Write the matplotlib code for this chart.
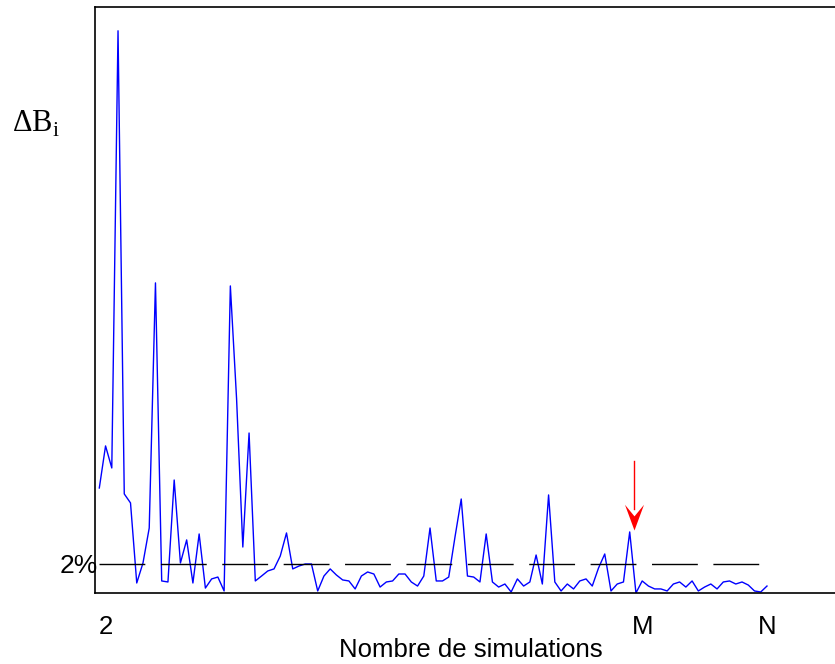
import numpy as np
import matplotlib.pyplot as plt
from matplotlib.path import Path

plt.rcParams['font.family'] = ['Liberation Sans', 'DejaVu Sans']
plt.rcParams['mathtext.fontset'] = 'custom'
plt.rcParams['mathtext.rm'] = 'Liberation Serif'

# relative change of B (in %) for each simulation
delta_b = [7.24, 10.14, 8.62, 38.76, 6.83, 6.21, 0.69, 2.07, 4.48, 21.38,
           0.83, 0.76, 7.79, 2.07, 3.66, 0.69, 4.07, 0.34, 0.97, 1.10,
           0.14, 21.17, 13.38, 3.17, 11.03, 0.83, 1.17, 1.52, 1.66, 2.55,
           4.14, 1.66, 1.86, 2.00, 2.00, 0.14, 1.17, 1.66, 1.24, 0.90,
           0.83, 0.28, 1.17, 1.45, 1.31, 0.41, 0.76, 0.83, 1.31, 1.31,
           0.76, 0.48, 1.17, 4.48, 0.83, 0.83, 1.10, 3.86, 6.48, 1.17,
           1.10, 0.76, 4.07, 0.76, 0.41, 0.62, 0.07, 0.97, 0.48, 0.76,
           2.62, 0.62, 6.76, 0.76, 0.14, 0.62, 0.28, 0.83, 0.97, 0.48,
           1.72, 2.69, 0.14, 0.62, 0.76, 4.21, 0.00, 0.83, 0.48, 0.28,
           0.28, 0.14, 0.62, 0.76, 0.41, 0.83, 0.14, 0.41, 0.62, 0.28,
           0.76, 0.83, 0.62, 0.76, 0.55, 0.14, 0.07, 0.48]
sims = np.arange(1, len(delta_b) + 1)

threshold = 2          # the 2% level
tick_pos = [2, 88, 108]
tick_labels = ['2', 'M', 'N']
m_index = 86           # simulation the arrow points at

fig = plt.figure(figsize=(8.35, 6.64), dpi=100)
ax = fig.add_axes([95/835, 1 - 593/664, 1 - 95/835, (593 - 7)/664])

ax.plot(sims, delta_b, color='#0000ff', lw=1.0)

# dashed 2% line
ax.plot([sims[0], sims[-2]], [threshold, threshold], color='black', lw=1.0,
        dashes=(33, 11.2))

# red arrow above point M
arrow_x = m_index + 0.7
tip_y = delta_b[m_index - 1] + 0.1
ax.plot([arrow_x, arrow_x], [tip_y + 1.5, tip_y + 4.8], color='red', lw=1.0)
head = Path([(0, 0), (-0.37, 1), (0, 0.55), (0.37, 1), (0, 0)],
            [Path.MOVETO, Path.LINETO, Path.LINETO, Path.LINETO, Path.CLOSEPOLY])
ax.plot([arrow_x], [tip_y], marker=head, markersize=37, color='red', mec='red', mew=0)

ax.set_xlim(0.31, 118.9)
ax.set_ylim(0, 40.4)
ax.set_xticks(tick_pos)
ax.set_xticklabels(tick_labels, fontsize=18.5)
ax.set_yticks([threshold])
ax.set_yticklabels(['2%'], fontsize=19)
ax.tick_params(axis='x', length=0, pad=16)
ax.tick_params(axis='y', length=0, pad=-2)
ax.set_xlabel('Nombre de simulations', fontsize=18.5, labelpad=-1)
ax.xaxis.label.set_x(0.508)

ax.spines['right'].set_visible(False)
for s in ['top', 'bottom', 'left']:
    ax.spines[s].set_linewidth(1.2)

fig.text(12/835, 1 - 124/664, r'ΔB$_\mathrm{i}$', fontsize=22,
         family='Liberation Serif', va='center', ha='left')

fig.savefig('out.png', dpi=100)
